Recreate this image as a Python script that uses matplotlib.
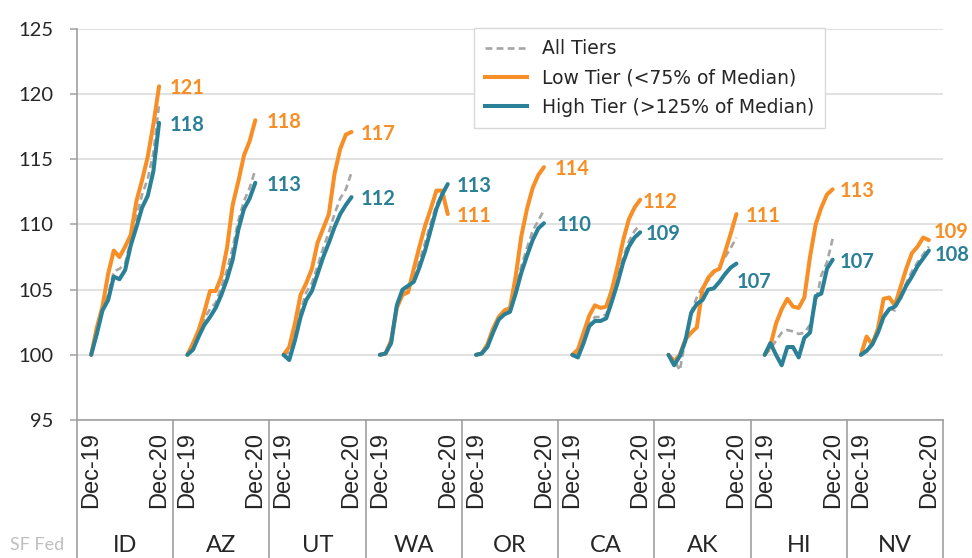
import matplotlib
matplotlib.use("Agg")
import matplotlib.pyplot as plt
from matplotlib.transforms import blended_transform_factory, offset_copy
from matplotlib.lines import Line2D

# ---------------- data ----------------
states = ["ID", "AZ", "UT", "WA", "OR", "CA", "AK", "HI", "NV"]
tick_first = "Dec-19"
tick_last = "Dec-20"
y_ticks = [95, 100, 105, 110, 115, 120, 125]

all_tiers = [
    [100, 101.8, 103.5, 104.6, 106.4, 106.6, 107.0, 108.8, 110.6, 112.3, 113.5, 115.5, 119.2],  # ID
    [100, 100.6, 101.7, 102.8, 103.5, 104.0, 105.2, 106.5, 108.2, 110.3, 111.8, 112.8, 114.2],  # AZ
    [100, 100.2, 101.6, 103.4, 104.8, 105.5, 106.8, 108.2, 109.4, 110.8, 112.0, 112.7, 114.0],  # UT
    [100, 100.1, 100.9, 103.7, 104.8, 105.1, 105.8, 107.2, 108.6, 110.1, 111.5, 112.4, 112.9],  # WA
    [100, 100.1, 100.7, 101.8, 102.8, 103.2, 103.5, 105.0, 106.8, 108.2, 109.5, 110.3, 111.1],  # OR
    [100, 100.1, 101.2, 102.4, 102.9, 102.9, 103.1, 104.4, 105.9, 107.5, 108.7, 109.5, 110.0],  # CA
    [100, 99.6, 98.8, 101.2, 103.3, 104.4, 105.2, 105.7, 106.3, 106.8, 107.5, 108.2, 109.0],    # AK
    [100, 100.4, 101.1, 101.7, 101.9, 101.8, 101.6, 101.7, 102.3, 104.0, 106.1, 107.1, 108.9],  # HI
    [100, 100.4, 100.9, 101.8, 103.0, 103.6, 103.4, 104.5, 105.5, 106.4, 107.1, 107.7, 108.3],  # NV
]
low_tier = [
    [100, 102.1, 103.7, 106.2, 108.0, 107.5, 108.3, 109.2, 111.8, 113.4, 115.2, 117.7, 120.6],  # ID
    [100, 100.9, 101.9, 103.3, 104.9, 104.9, 106.0, 108.2, 111.5, 113.3, 115.3, 116.4, 118.0],  # AZ
    [100, 100.6, 102.4, 104.6, 105.5, 106.6, 108.6, 109.7, 110.8, 113.9, 115.8, 116.9, 117.1],  # UT
    [100, 100.1, 101.1, 103.6, 104.6, 104.8, 106.6, 108.3, 109.9, 111.2, 112.6, 112.6, 110.8],  # WA
    [100, 100.1, 100.8, 102.0, 102.9, 103.4, 103.6, 106.0, 109.1, 111.2, 112.8, 113.8, 114.4],  # OR
    [100, 100.4, 101.7, 103.0, 103.8, 103.6, 103.7, 105.0, 106.8, 108.8, 110.4, 111.3, 111.9],  # CA
    [100, 99.5, 100.0, 101.2, 101.7, 102.1, 105.0, 105.9, 106.4, 106.6, 107.9, 109.3, 110.8],   # AK
    [100, 100.7, 102.4, 103.5, 104.3, 103.7, 103.6, 104.4, 107.5, 110.0, 111.3, 112.3, 112.7],  # HI
    [100, 101.4, 100.8, 102.0, 104.3, 104.4, 103.8, 105.2, 106.6, 107.8, 108.3, 109.0, 108.8],  # NV
]
high_tier = [
    [100, 101.6, 103.4, 104.2, 106.0, 105.8, 106.5, 108.4, 109.8, 111.3, 112.2, 114.1, 117.8],  # ID
    [100, 100.4, 101.4, 102.3, 102.9, 103.6, 104.6, 105.8, 107.3, 109.6, 111.2, 112.0, 113.2],  # AZ
    [100, 99.6, 101.1, 102.9, 104.2, 104.9, 106.2, 107.5, 108.6, 109.8, 110.8, 111.5, 112.1],   # UT
    [100, 100.1, 100.9, 103.8, 105.0, 105.3, 105.6, 106.7, 108.0, 109.6, 111.2, 112.3, 113.1],  # WA
    [100, 100.1, 100.6, 101.7, 102.7, 103.1, 103.3, 104.7, 106.3, 107.6, 108.8, 109.7, 110.1],  # OR
    [100, 99.8, 100.9, 102.2, 102.6, 102.6, 102.8, 104.1, 105.5, 107.1, 108.3, 109.0, 109.4],   # CA
    [100, 99.2, 99.9, 101.1, 103.2, 103.9, 104.2, 105.0, 105.1, 105.6, 106.2, 106.7, 107.0],    # AK
    [100, 100.9, 100.0, 99.2, 100.6, 100.6, 99.8, 101.3, 101.7, 104.5, 104.7, 106.6, 107.3],    # HI
    [100, 100.3, 100.8, 101.7, 102.9, 103.5, 103.7, 104.4, 105.3, 106.0, 106.8, 107.4, 108.0],  # NV
]
low_labels = ["121", "118", "117", "111", "114", "112", "111", "113", "109"]
high_labels = ["118", "113", "112", "113", "110", "109", "107", "107", "108"]
series_names = ["All Tiers", "Low Tier (<75% of Median)", "High Tier (>125% of Median)"]
source_text = "SF Fed"

# ---------------- style ----------------
GREY = "#a6a6a6"
ORANGE = "#f78e26"
TEAL = "#2a8096"
AXIS = "#a0a0a0"
GRID = "#d9d9d9"
FONT = "Lato"
SLOTS = 17          # slots per state group (13 months + gaps)
OFF = 2             # first month slot
low_off = [(11, 0), (11, 0), (9, 0), (9, 0), (11, 0), (2, 0), (9, 0), (7, 0), (5, 10)]
high_off = [(11, 0), (11, 0), (9, 0), (9, 0), (13, 0), (5, 0), (0, -16), (7, 0), (6, -2)]

W, H = 972, 558
fig = plt.figure(figsize=(W / 100, H / 100), dpi=100)
ax = fig.add_axes([77 / W, 138 / H, 866 / W, 391 / H])

for g in range(len(states)):
    xs = [g * SLOTS + OFF + m for m in range(len(low_tier[g]))]
    ax.plot(xs, all_tiers[g], color=GREY, lw=1.9, dashes=(2.6, 1.6), zorder=3,
            solid_capstyle="butt")
    ax.plot(xs, low_tier[g], color=ORANGE, lw=2.9, zorder=4, solid_joinstyle="round",
            solid_capstyle="round")
    ax.plot(xs, high_tier[g], color=TEAL, lw=2.9, zorder=5, solid_joinstyle="round",
            solid_capstyle="round")
    # end labels
    for vals, lab, off, col in ((low_tier[g], low_labels[g], low_off[g], ORANGE),
                                (high_tier[g], high_labels[g], high_off[g], TEAL)):
        tr = offset_copy(ax.transData, fig=fig, x=off[0], y=off[1], units="dots")
        ax.text(xs[-1], vals[-1], lab, transform=tr, color=col, fontsize=14.5,
                fontweight="bold", family=FONT, ha="left", va="center_baseline",
                clip_on=False, zorder=6)

n = len(states) * SLOTS
ax.set_xlim(-0.5, n - 0.5)
ax.set_ylim(95, 125)
ax.set_yticks(y_ticks)
ax.set_yticklabels([str(t) for t in y_ticks], family=FONT, fontsize=14.5, color="#262626")
ax.grid(axis="y", color=GRID, lw=1.1, zorder=0)
ax.set_axisbelow(True)

xt, xl = [], []
for g in range(len(states)):
    xt += [g * SLOTS + OFF, g * SLOTS + OFF + 12]
    xl += [tick_first, tick_last]
ax.set_xticks(xt)
ax.set_xticklabels(xl, rotation=90, family="Liberation Sans", fontsize=17, color="#262626")
ax.tick_params(axis="x", length=0, pad=9)
ax.tick_params(axis="y", length=5, width=1.1, color=AXIS, direction="out", pad=12)

for s in ("top", "right"):
    ax.spines[s].set_visible(False)
for s in ("left", "bottom"):
    ax.spines[s].set_color(AXIS)
    ax.spines[s].set_linewidth(1.2)

# group separators below the axis and state names
btr = blended_transform_factory(ax.transData, fig.transFigure)
ybot = 138 / H
for g in range(len(states) + 1):
    xg = g * SLOTS - 0.5
    fig.add_artist(Line2D([xg, xg], [0, ybot], transform=btr, color=AXIS, lw=1.2))
for g, st in enumerate(states):
    fig.text(g * SLOTS + OFF + 6, 12 / H, st, transform=btr, ha="center",
             va="center", family=FONT, fontsize=17, color="#262626")

fig.text(64 / W, 13 / H, source_text, ha="right", va="center", family=FONT,
         fontsize=13, color="#bfbfbf")

handles = [Line2D([], [], color=GREY, lw=1.9, dashes=(2.6, 1.6)),
           Line2D([], [], color=ORANGE, lw=2.9),
           Line2D([], [], color=TEAL, lw=2.9)]
leg = fig.legend(handles, series_names, loc="upper left",
                 bbox_to_anchor=(474 / W, 1 - 28 / H), frameon=True, fancybox=False,
                 edgecolor=GRID, framealpha=1, handlelength=2.2, handletextpad=0.8,
                 labelspacing=0.55, borderpad=0.6, borderaxespad=0,
                 prop={"family": "DejaVu Sans", "size": 13.5})
leg.get_frame().set_linewidth(1.0)
for t in leg.get_texts():
    t.set_color("#262626")

fig.savefig("out.png", dpi=100)
